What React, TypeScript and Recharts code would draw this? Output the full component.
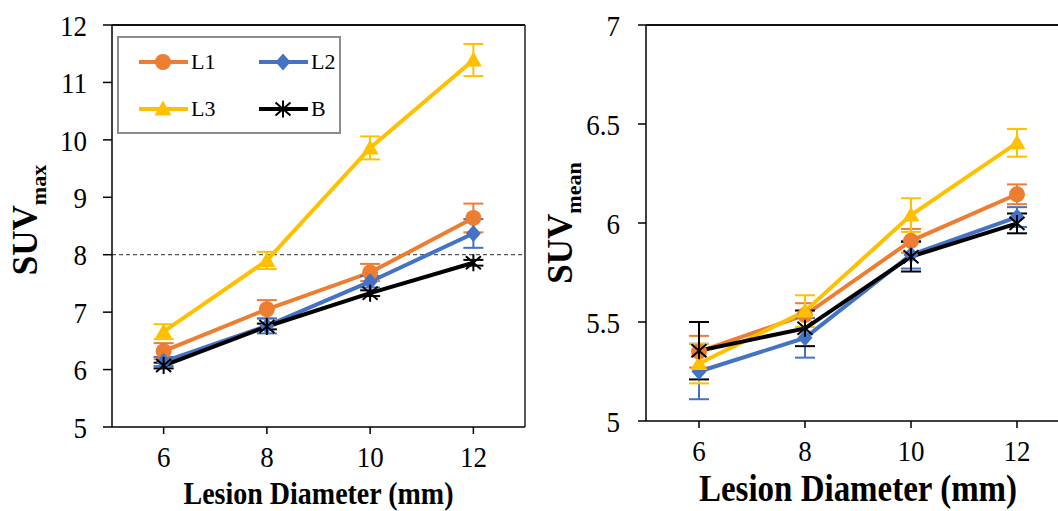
import { LineChart, Line, XAxis, YAxis, ErrorBar, ReferenceLine, Legend } from "recharts"

const serif = "'Liberation Serif', 'Times New Roman', serif"

const diameters = [6, 8, 10, 12]

// SUVmax panel
const maxL1 = [6.32, 7.05, 7.69, 8.64]
const maxL1Err = [0.14, 0.16, 0.15, 0.25]
const maxL2 = [6.14, 6.76, 7.53, 8.37]
const maxL2Err = [0.08, 0.13, 0.1, 0.25]
const maxL3 = [6.66, 7.9, 9.86, 11.39]
const maxL3Err = [0.13, 0.15, 0.2, 0.28]
const maxB = [6.07, 6.75, 7.33, 7.86]
const maxBErr = [0.05, 0.05, 0.05, 0.05]

// SUVmean panel
const meanL1 = [5.35, 5.535, 5.91, 6.145]
const meanL1Err = [0.08, 0.06, 0.06, 0.05]
const meanL2 = [5.25, 5.42, 5.84, 6.03]
const meanL2Err = [0.14, 0.1, 0.07, 0.05]
const meanL3 = [5.29, 5.555, 6.04, 6.405]
const meanL3Err = [0.1, 0.08, 0.085, 0.07]
const meanB = [5.355, 5.468, 5.83, 5.998]
const meanBErr = [0.145, 0.09, 0.075, 0.05]

const seriesKeys = ["l1", "l2", "l3", "b"]
const seriesNames = ["L1", "L2", "L3", "B"]
const seriesColors = ["#ED7D31", "#4472C4", "#FFC000", "#000000"]
const seriesShapes = ["circle", "diamond", "triangle", "star"]

const maxTicks = [5, 6, 7, 8, 9, 10, 11, 12]
const meanTicks = [5, 5.5, 6, 6.5, 7]
const xTicks = [6, 8, 10, 12]

const maxRows = diameters.map((d, i) => ({
  d,
  l1: maxL1[i], l1e: maxL1Err[i],
  l2: maxL2[i], l2e: maxL2Err[i],
  l3: maxL3[i], l3e: maxL3Err[i],
  b: maxB[i], be: maxBErr[i],
}))

const meanRows = diameters.map((d, i) => ({
  d,
  l1: meanL1[i], l1e: meanL1Err[i],
  l2: meanL2[i], l2e: meanL2Err[i],
  l3: meanL3[i], l3e: meanL3Err[i],
  b: meanB[i], be: meanBErr[i],
}))

function Marker({ cx, cy, shape, color }: any) {
  if (cx == null || cy == null) return null
  if (shape === "circle") return <circle cx={cx} cy={cy} r={8} fill={color} />
  if (shape === "diamond")
    return <path d={`M${cx},${cy - 8.5}L${cx + 7.5},${cy}L${cx},${cy + 8.5}L${cx - 7.5},${cy}Z`} fill={color} />
  if (shape === "triangle")
    return <path d={`M${cx},${cy - 8.5}L${cx + 8.5},${cy + 6.5}L${cx - 8.5},${cy + 6.5}Z`} fill={color} />
  return (
    <path
      d={`M${cx},${cy - 8.5}L${cx},${cy + 8.5}M${cx - 7.5},${cy - 6.5}L${cx + 7.5},${cy + 6.5}M${cx - 7.5},${cy + 6.5}L${cx + 7.5},${cy - 6.5}`}
      stroke={color}
      strokeWidth={2}
      fill="none"
    />
  )
}

// legend slots: column offsets and row centres inside the box
const legendCols = [22, 142]
const legendRows = [26, 73]

function LegendBox({ payload }: any) {
  const names = (payload || []).map((p: any) => p.value)
  const items = seriesNames.filter((n) => names.includes(n))
  return (
    <div
      style={{
        position: "relative",
        width: 224,
        height: 98,
        border: "2px solid #8c8c8c",
        background: "#fff",
        boxSizing: "border-box",
      }}
    >
      {items.map((name, j) => {
        const i = seriesNames.indexOf(name)
        return (
          <div
            key={name}
            style={{
              position: "absolute",
              left: legendCols[j % 2] - 2,
              top: legendRows[Math.floor(j / 2)] - 2 - 12,
              height: 24,
              display: "flex",
              alignItems: "center",
            }}
          >
            <svg width={50} height={24}>
              <line x1={0} y1={12} x2={49} y2={12} stroke={seriesColors[i]} strokeWidth={4} />
              <Marker cx={24} cy={12} shape={seriesShapes[i]} color={seriesColors[i]} />
            </svg>
            <span style={{ fontFamily: serif, fontSize: 22, color: "#000", marginLeft: 2, lineHeight: "24px" }}>{name}</span>
          </div>
        )
      })}
    </div>
  )
}

function SuvLabel({ viewBox, sub, bx, cy, size }: any) {
  const x = viewBox.x + bx
  return (
    <text
      x={x}
      y={cy}
      transform={`rotate(-90 ${x} ${cy})`}
      textAnchor="middle"
      fontFamily={serif}
      fontWeight="bold"
      fontSize={size}
      fill="#000"
    >
      SUV
      <tspan fontSize={Math.round(size * 0.63)} dy={9}>{sub}</tspan>
    </text>
  )
}

function XTitle({ viewBox, dy, size }: any) {
  const x = viewBox.x + viewBox.width / 2
  const y = viewBox.y + dy
  return (
    <g transform={`translate(${x},${y}) scale(1,1.15)`}>
      <text x={0} y={0} textAnchor="middle" fontFamily={serif} fontWeight="bold" fontSize={size} fill="#000">
        Lesion Diameter (mm)
      </text>
    </g>
  )
}

function Tick({ x, y, payload, textAnchor, verticalAnchor }: any) {
  const dy = verticalAnchor === "start" ? "0.71em" : "0.355em"
  return (
    <g transform={`translate(${x},${y}) scale(1,1.12)`}>
      <text x={0} y={0} dy={dy} textAnchor={textAnchor} fontFamily={serif} fontSize={27} fill="#000">
        {payload.value}
      </text>
    </g>
  )
}

function renderSeries() {
  return seriesKeys.map((k, i) => (
    <Line
      key={k}
      dataKey={k}
      name={seriesNames[i]}
      stroke={seriesColors[i]}
      strokeWidth={4}
      isAnimationActive={false}
      legendType="line"
      dot={(p: any) => <Marker key={`${k}-${p.index}`} cx={p.cx} cy={p.cy} shape={seriesShapes[i]} color={seriesColors[i]} />}
      activeDot={false}
    >
      <ErrorBar dataKey={`${k}e`} width={10} stroke={seriesColors[i]} strokeWidth={2} direction="y" />
    </Line>
  ))
}

const axisStroke = { stroke: "#000", strokeWidth: 1.5 }

export default function App() {
  return (
    <div style={{ position: "fixed", left: 0, top: 0, width: 1058, height: 511, overflow: "hidden", background: "#fff" }}>
      <div style={{ position: "absolute", left: 0, top: 0 }}>
        <LineChart width={540} height={511} data={maxRows} margin={{ top: 25, right: 15, bottom: 54, left: 0 }}>
          <XAxis
            dataKey="d"
            type="number"
            domain={[5, 13]}
            ticks={xTicks}
            height={30}
            tickSize={7}
            tickMargin={12}
            tick={<Tick />}
            axisLine={axisStroke}
            tickLine={axisStroke}
            label={(p: any) => <XTitle {...p} dy={77} size={28} />}
          />
          <YAxis
            type="number"
            domain={[5, 12]}
            ticks={maxTicks}
            width={112}
            tickSize={9}
            tickMargin={16}
            tick={<Tick />}
            axisLine={axisStroke}
            tickLine={axisStroke}
            label={(p: any) => <SuvLabel {...p} sub="max" bx={37} cy={220} size={35} />}
          />
          <ReferenceLine y={12} stroke="#111" strokeWidth={2} />
          <ReferenceLine x={13} stroke="#222" strokeWidth={1.5} />
          <ReferenceLine y={8} stroke="#555" strokeWidth={1.3} strokeDasharray="4 3" />
          <Legend
            layout="vertical"
            align="center"
            verticalAlign="middle"
            content={<LegendBox />}
            wrapperStyle={{ left: 117, top: 36, width: 224, height: 98 }}
          />
          {renderSeries()}
        </LineChart>
      </div>
      <div style={{ position: "absolute", left: 540, top: 0 }}>
        <LineChart width={560} height={511} data={meanRows} margin={{ top: 25, right: 30, bottom: 60, left: 0 }}>
          <XAxis
            dataKey="d"
            type="number"
            domain={[5, 13]}
            ticks={xTicks}
            height={30}
            tickSize={7}
            tickMargin={12}
            tick={<Tick />}
            axisLine={axisStroke}
            tickLine={axisStroke}
            label={(p: any) => <XTitle {...p} dy={80} size={33} />}
          />
          <YAxis
            type="number"
            domain={[5, 7]}
            ticks={meanTicks}
            width={106}
            tickSize={8}
            tickMargin={18}
            tick={<Tick />}
            axisLine={axisStroke}
            tickLine={axisStroke}
            label={(p: any) => <SuvLabel {...p} sub="mean" bx={32} cy={223} size={35} />}
          />
          <ReferenceLine y={7} stroke="#111" strokeWidth={2} />
          <ReferenceLine x={13} stroke="#222" strokeWidth={1.5} />
          {renderSeries()}
        </LineChart>
      </div>
    </div>
  )
}
